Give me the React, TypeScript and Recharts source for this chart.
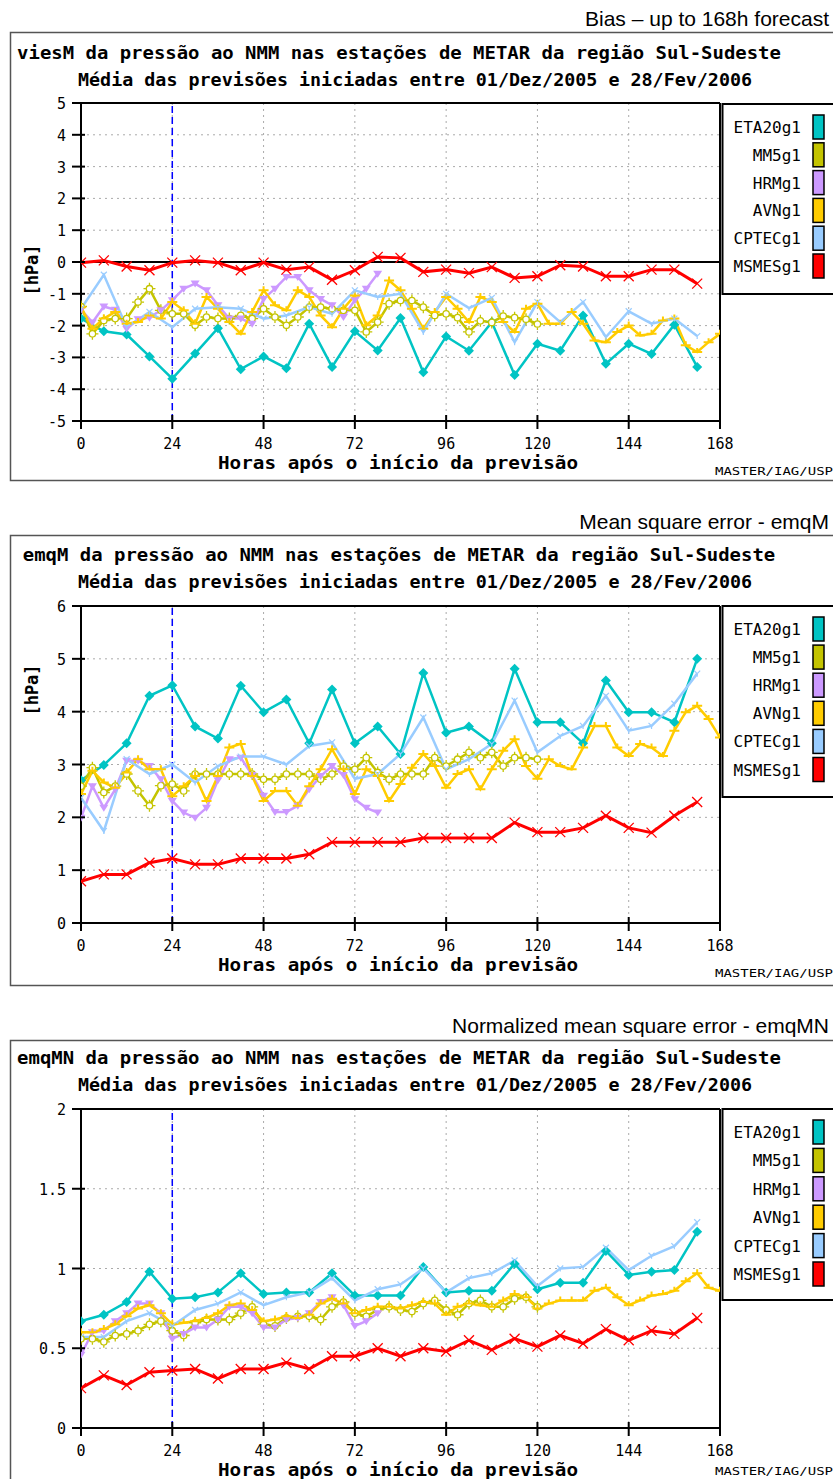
import React from 'react';
import { LineChart, Line, XAxis, YAxis, CartesianGrid, ReferenceLine } from 'recharts';

// x axis: hours after forecast start
const HOUR_TICKS = [0, 24, 48, 72, 96, 120, 144, 168];
const SERIES_NAMES = ['ETA20g1', 'MM5g1', 'HRMg1', 'AVNg1', 'CPTECg1', 'MSMESg1'];
const SERIES_COLORS = ['#00c4c4', '#c4c400', '#cc99ff', '#ffcc00', '#99ccff', '#ff0000'];
// ETA, CPTEC, MSMES every 6h; MM5, HRM, AVN every 3h
const SERIES_STEP = [6, 3, 3, 3, 6, 6];

// ---- viesM (bias) [hPa]
const biasETA = [-1.78, -2.18, -2.28, -2.97, -3.67, -2.88, -2.08, -3.37, -2.97, -3.34, -1.94, -3.3, -2.18, -2.78, -1.76, -3.47, -2.34, -2.79, -1.89, -3.55, -2.57, -2.79, -1.68, -3.2, -2.57, -2.89, -1.97, -3.3];
const biasMM5 = [-1.4, -2.26, -1.84, -1.78, -1.78, -1.26, -0.84, -1.52, -1.63, -1.63, -1.99, -1.73, -1.78, -1.78, -1.68, -1.78, -1.47, -1.73, -1.99, -1.73, -1.42, -1.42, -1.47, -1.52, -1.52, -2.2, -1.89, -1.31, -1.21, -1.21, -1.42, -1.68, -1.63, -1.75, -2.2, -1.85, -1.9, -1.7, -1.75, -1.8, -1.95];
const biasHRM = [-1.5, -1.9, -1.4, -1.5, -2.1, -1.8, -1.75, -1.52, -1.2, -0.84, -0.68, -0.89, -1.36, -1.78, -1.78, -1.94, -1.16, -0.84, -0.47, -0.47, -0.89, -1.16, -1.36, -1.73, -1.2, -0.84, -0.37];
const biasAVN = [-1.42, -2.1, -1.78, -1.57, -1.94, -1.89, -1.68, -1.78, -1.26, -1.52, -1.94, -1.1, -1.47, -1.89, -2.26, -1.57, -0.89, -1.36, -1.52, -0.89, -1.1, -1.68, -2.05, -1.47, -1.05, -1.99, -1.68, -0.58, -0.89, -1.47, -2.1, -1.57, -1.1, -1.47, -1.89, -1.1, -1.26, -1.89, -2.2, -1.47, -1.31, -1.94, -1.94, -1.57, -1.94, -2.47, -2.52, -2.2, -2.0, -2.31, -2.26, -1.84, -1.78, -2.62, -2.83, -2.52, -2.26];
const biasCPTEC = [-1.47, -0.4, -2.05, -1.57, -2.05, -1.47, -1.42, -1.47, -1.78, -1.68, -1.42, -1.63, -0.89, -1.1, -1.0, -2.2, -1.0, -1.45, -1.13, -2.52, -1.26, -1.89, -1.26, -2.36, -1.55, -1.94, -1.78, -2.33];
const biasMSMES = [-0.02, 0.05, -0.14, -0.26, -0.02, 0.05, -0.02, -0.26, -0.02, -0.24, -0.16, -0.56, -0.26, 0.16, 0.13, -0.31, -0.24, -0.35, -0.16, -0.5, -0.45, -0.1, -0.14, -0.45, -0.45, -0.24, -0.24, -0.68];

// ---- emqM (mean square error) [hPa]
const emqETA = [2.7, 2.99, 3.4, 4.3, 4.5, 3.72, 3.49, 4.49, 3.99, 4.23, 3.4, 4.42, 3.4, 3.72, 3.2, 4.73, 3.6, 3.72, 3.4, 4.81, 3.8, 3.8, 3.4, 4.59, 3.99, 3.99, 3.8, 5.0];
const emqMM5 = [2.59, 2.94, 2.47, 2.59, 2.82, 2.5, 2.22, 2.6, 2.63, 2.5, 2.82, 2.82, 2.82, 2.82, 2.82, 2.82, 2.72, 2.72, 2.82, 2.82, 2.82, 2.72, 2.82, 2.97, 2.91, 3.13, 2.85, 2.72, 2.82, 2.82, 2.82, 3.13, 2.97, 3.1, 3.23, 3.13, 3.23, 2.97, 3.13, 3.13, 3.1];
const emqHRM = [1.99, 2.59, 2.18, 2.53, 3.07, 3.07, 2.97, 2.72, 2.31, 2.09, 1.99, 2.18, 2.7, 3.1, 3.13, 2.8, 2.41, 2.1, 2.1, 2.22, 2.53, 2.78, 2.97, 2.8, 2.34, 2.18, 2.09];
const emqAVN = [2.44, 2.88, 2.66, 2.56, 2.85, 3.1, 2.91, 2.91, 2.4, 2.59, 2.78, 2.31, 2.78, 3.32, 3.39, 2.78, 2.31, 2.5, 2.5, 2.22, 2.59, 2.91, 3.29, 2.91, 2.44, 2.91, 2.78, 2.31, 2.63, 2.94, 3.2, 2.97, 2.56, 2.82, 2.91, 2.53, 2.91, 3.26, 3.48, 2.97, 2.73, 3.1, 2.97, 2.91, 3.32, 3.73, 3.73, 3.32, 3.16, 3.39, 3.32, 3.16, 3.64, 3.99, 4.11, 3.86, 3.51];
const emqCPTEC = [2.37, 1.74, 3.1, 2.82, 3.0, 2.66, 2.97, 3.15, 3.15, 3.0, 3.35, 3.42, 2.73, 2.82, 3.2, 3.89, 2.91, 3.1, 3.39, 4.21, 3.23, 3.54, 3.73, 4.3, 3.64, 3.73, 4.15, 4.72];
const emqMSMES = [0.79, 0.92, 0.92, 1.14, 1.22, 1.11, 1.11, 1.22, 1.22, 1.22, 1.3, 1.53, 1.53, 1.53, 1.53, 1.61, 1.61, 1.61, 1.61, 1.9, 1.72, 1.72, 1.8, 2.03, 1.8, 1.71, 2.03, 2.29];

// ---- emqMN (normalized mean square error)
const nrmETA = [0.67, 0.71, 0.79, 0.98, 0.81, 0.82, 0.85, 0.97, 0.84, 0.85, 0.85, 0.97, 0.83, 0.83, 0.83, 1.01, 0.85, 0.86, 0.86, 1.03, 0.87, 0.91, 0.91, 1.11, 0.96, 0.98, 0.99, 1.23];
const nrmMM5 = [0.56, 0.56, 0.54, 0.58, 0.59, 0.61, 0.65, 0.67, 0.61, 0.58, 0.66, 0.68, 0.68, 0.68, 0.72, 0.76, 0.65, 0.64, 0.69, 0.7, 0.7, 0.68, 0.76, 0.79, 0.72, 0.7, 0.74, 0.76, 0.74, 0.73, 0.78, 0.8, 0.74, 0.71, 0.78, 0.8, 0.76, 0.76, 0.81, 0.82, 0.76];
const nrmHRM = [0.46, 0.6, 0.61, 0.67, 0.72, 0.78, 0.78, 0.72, 0.56, 0.59, 0.63, 0.63, 0.68, 0.76, 0.76, 0.72, 0.63, 0.63, 0.68, 0.69, 0.72, 0.79, 0.82, 0.77, 0.64, 0.67, 0.72];
const nrmAVN = [0.6, 0.6, 0.62, 0.65, 0.7, 0.75, 0.77, 0.72, 0.65, 0.66, 0.67, 0.69, 0.72, 0.77, 0.78, 0.74, 0.67, 0.68, 0.7, 0.69, 0.71, 0.78, 0.81, 0.78, 0.72, 0.74, 0.76, 0.76, 0.75, 0.77, 0.79, 0.78, 0.71, 0.76, 0.78, 0.77, 0.76, 0.8, 0.84, 0.82, 0.75, 0.78, 0.8, 0.8, 0.8, 0.86, 0.88, 0.82, 0.77, 0.8, 0.83, 0.84, 0.86, 0.92, 0.97, 0.88, 0.86];
const nrmCPTEC = [0.57, 0.57, 0.67, 0.72, 0.64, 0.74, 0.78, 0.85, 0.77, 0.82, 0.85, 0.94, 0.8, 0.87, 0.9, 1.0, 0.85, 0.94, 0.97, 1.05, 0.89, 1.0, 1.01, 1.13, 0.99, 1.08, 1.14, 1.29];
const nrmMSMES = [0.25, 0.33, 0.27, 0.35, 0.36, 0.37, 0.31, 0.37, 0.37, 0.41, 0.37, 0.45, 0.45, 0.5, 0.45, 0.5, 0.48, 0.55, 0.49, 0.56, 0.51, 0.58, 0.53, 0.62, 0.55, 0.61, 0.59, 0.69];

const SUBTITLE = 'Média das previsões iniciadas entre 01/Dez/2005 e 28/Fev/2006';
const MONO = '"DejaVu Sans Mono", "Liberation Mono", monospace';
const SANS = '"Liberation Sans", Arial, sans-serif';

const toPoints = (vals: number[], step: number) => vals.map((v, i) => ({ h: i * step, v }));

// markers, one per series
const marker = (k: number, cx: number, cy: number, c: string) => {
  if (cx == null || cy == null) return <g />;
  switch (k) {
    case 0:
      return <polygon points={`${cx},${cy - 5} ${cx + 5},${cy} ${cx},${cy + 5} ${cx - 5},${cy}`} fill={c} />;
    case 1:
      return (
        <g stroke={c} strokeWidth={1.3} fill="#fff">
          <circle cx={cx} cy={cy} r={3.2} />
          <path d={`M${cx},${cy - 6}V${cy - 3.5}M${cx},${cy + 3.5}V${cy + 6}M${cx - 6},${cy}H${cx - 3.5}M${cx + 3.5},${cy}H${cx + 6}`} />
        </g>
      );
    case 2:
      return <polygon points={`${cx - 4.5},${cy - 3} ${cx + 4.5},${cy - 3} ${cx},${cy + 4}`} fill={c} />;
    case 3:
      return <path d={`M${cx - 5},${cy}H${cx + 5}M${cx},${cy}V${cy - 4}`} stroke={c} strokeWidth={2} fill="none" />;
    case 4:
      return <path d={`M${cx - 3},${cy - 3}L${cx},${cy}L${cx + 3},${cy - 3}M${cx},${cy}V${cy + 3}`} stroke={c} strokeWidth={1.2} fill="none" />;
    default:
      return <path d={`M${cx - 5},${cy - 5}L${cx + 5},${cy + 5}M${cx + 5},${cy - 5}L${cx - 5},${cy + 5}`} stroke={c} strokeWidth={1.3} fill="none" />;
  }
};

type PanelProps = {
  plotTop: number;
  plotH: number;
  domain: [number, number];
  ticks: number[];
  zeroLine?: boolean;
  series: number[][];
};

const Panel = ({ plotTop, plotH, domain, ticks, zeroLine, series }: PanelProps) => (
  <div style={{ position: 'absolute', left: 0, top: plotTop - 10 }}>
    <LineChart width={833} height={plotH + 70} margin={{ top: 10, right: 113, bottom: 0, left: 0 }}>
      <CartesianGrid stroke="#aaaaaa" strokeDasharray="2 4" />
      <XAxis
        type="number"
        dataKey="h"
        domain={[0, 168]}
        ticks={HOUR_TICKS}
        interval={0}
        height={60}
        axisLine={false}
        tickLine={false}
        tickSize={7}
        tickMargin={4}
        allowDataOverflow
        tick={(p: any) => {
          const ay = p.y - 11;
          return (
            <g>
              <line x1={p.x} x2={p.x} y1={ay - 6} y2={ay + 8} stroke="#000" strokeWidth={2} />
              <text x={p.x} y={ay + 28} textAnchor="middle" fontFamily={MONO} fontSize={15} fill="#000">
                {p.payload.value}
              </text>
            </g>
          );
        }}
      />
      <YAxis
        type="number"
        domain={domain}
        ticks={ticks}
        interval={0}
        width={81}
        axisLine={false}
        tickLine={false}
        tickSize={7}
        tickMargin={8}
        allowDataOverflow
        tick={(p: any) => {
          const ax = p.x + 15;
          return (
            <g>
              <line x1={ax - 9} x2={ax + 4} y1={p.y} y2={p.y} stroke="#000" strokeWidth={2} />
              <text x={p.x} y={p.y + 6} textAnchor="end" fontFamily={MONO} fontSize={15} fill="#000">
                {p.payload.value}
              </text>
            </g>
          );
        }}
      />
      <ReferenceLine x={24} stroke="#0000ff" strokeWidth={1.5} strokeDasharray="7 4" />
      {zeroLine && <ReferenceLine y={0} stroke="#000" strokeWidth={2} />}
      {series.map((vals, k) => (
        <Line
          key={SERIES_NAMES[k]}
          data={toPoints(vals, SERIES_STEP[k])}
          dataKey="v"
          name={SERIES_NAMES[k]}
          stroke={SERIES_COLORS[k]}
          strokeWidth={k === 5 ? 3 : 2.5}
          dot={(p: any) => <g key={p.index}>{marker(k, p.cx, p.cy, SERIES_COLORS[k])}</g>}
          activeDot={false}
          isAnimationActive={false}
        />
      ))}
      <ReferenceLine x={0} stroke="#000" strokeWidth={2} />
      <ReferenceLine x={168} stroke="#000" strokeWidth={2} />
      <ReferenceLine y={domain[0]} stroke="#000" strokeWidth={2} />
      <ReferenceLine y={domain[1]} stroke="#000" strokeWidth={2} />
    </LineChart>
  </div>
);

type FrameProps = {
  frameTop: number;
  frameBottom: number;
  header: string;
  headerY: number;
  title: string;
  titleY: number;
  plotTop: number;
  plotH: number;
  legendTop: number;
  legendBottom: number;
  rowStep: number;
  yLabelY?: number;
};

const Frame = (f: FrameProps) => {
  const xLabelY = f.plotTop + f.plotH + 48;
  const titleW = f.title.length * 11.4;
  return (
    <g>
      <text x={829} y={f.headerY} textAnchor="end" fontFamily={SANS} fontSize={21} fill="#000">
        {f.header}
      </text>
      <rect x={10.5} y={f.frameTop + 0.5} width={840} height={f.frameBottom - f.frameTop} fill="#fff" stroke="#555" strokeWidth={1.5} />
      <text x={399 - titleW / 2} y={f.titleY} textLength={titleW} lengthAdjust="spacingAndGlyphs" fontFamily={MONO} fontWeight="bold" fontSize={18} fill="#000">
        {f.title}
      </text>
      <text x={78} y={f.titleY + 27} textLength={SUBTITLE.length * 11.05} lengthAdjust="spacingAndGlyphs" fontFamily={MONO} fontWeight="bold" fontSize={18} fill="#000">
        {SUBTITLE}
      </text>
      {f.yLabelY != null && (
        <text
          x={0}
          y={0}
          transform={`translate(38 ${f.yLabelY}) rotate(-90)`}
          textAnchor="middle"
          fontFamily={MONO}
          fontWeight="bold"
          fontSize={17}
          fill="#000"
        >
          [hPa]
        </text>
      )}
      <text x={218} y={xLabelY} textLength={360} lengthAdjust="spacingAndGlyphs" fontFamily={MONO} fontWeight="bold" fontSize={18} fill="#000">
        Horas após o início da previsão
      </text>
      <text x={715} y={Math.min(xLabelY + 6, 1475)} textLength={118} lengthAdjust="spacingAndGlyphs" fontFamily={MONO} fontSize={11} fill="#000">
        MASTER/IAG/USP
      </text>
      <rect x={722.5} y={f.legendTop} width={120} height={f.legendBottom - f.legendTop} fill="#fff" stroke="#000" strokeWidth={2} />
      {SERIES_NAMES.map((n, k) => {
        const cy = f.legendTop + 23 + k * f.rowStep;
        return (
          <g key={n}>
            <text x={801} y={cy + 6} textAnchor="end" fontFamily={MONO} fontSize={16} fill="#000">
              {n}
            </text>
            <rect x={813} y={cy - 12} width={11} height={24} fill={SERIES_COLORS[k]} stroke="#000" strokeWidth={1.5} />
          </g>
        );
      })}
    </g>
  );
};

const P1 = { plotTop: 103, plotH: 318 };
const P2 = { plotTop: 606, plotH: 317 };
const P3 = { plotTop: 1109, plotH: 319 };

export default function App() {
  return (
    <div style={{ position: 'absolute', left: 0, top: 0, width: 833, height: 1479, background: '#fff', overflow: 'hidden' }}>
      <svg width={833} height={1479} style={{ position: 'absolute', left: 0, top: 0 }}>
        <Frame
          frameTop={32}
          frameBottom={480}
          header="Bias – up to 168h forecast"
          headerY={26}
          title="viesM da pressão ao NMM nas estações de METAR da região Sul-Sudeste"
          titleY={59}
          {...P1}
          legendTop={104}
          legendBottom={294}
          rowStep={27.8}
          yLabelY={270}
        />
        <Frame
          frameTop={535}
          frameBottom={985}
          header="Mean square error - emqM"
          headerY={529}
          title="emqM da pressão ao NMM nas estações de METAR da região Sul-Sudeste"
          titleY={561}
          {...P2}
          legendTop={606}
          legendBottom={797}
          rowStep={28.1}
          yLabelY={690}
        />
        <Frame
          frameTop={1040}
          frameBottom={1500}
          header="Normalized mean square error - emqMN"
          headerY={1033}
          title="emqMN da pressão ao NMM nas estações de METAR da região Sul-Sudeste"
          titleY={1064}
          {...P3}
          legendTop={1109}
          legendBottom={1300}
          rowStep={28.4}
        />
      </svg>
      <Panel {...P1} domain={[-5, 5]} ticks={[-5, -4, -3, -2, -1, 0, 1, 2, 3, 4, 5]} zeroLine series={[biasETA, biasMM5, biasHRM, biasAVN, biasCPTEC, biasMSMES]} />
      <Panel {...P2} domain={[0, 6]} ticks={[0, 1, 2, 3, 4, 5, 6]} series={[emqETA, emqMM5, emqHRM, emqAVN, emqCPTEC, emqMSMES]} />
      <Panel {...P3} domain={[0, 2]} ticks={[0, 0.5, 1, 1.5, 2]} series={[nrmETA, nrmMM5, nrmHRM, nrmAVN, nrmCPTEC, nrmMSMES]} />
    </div>
  );
}
